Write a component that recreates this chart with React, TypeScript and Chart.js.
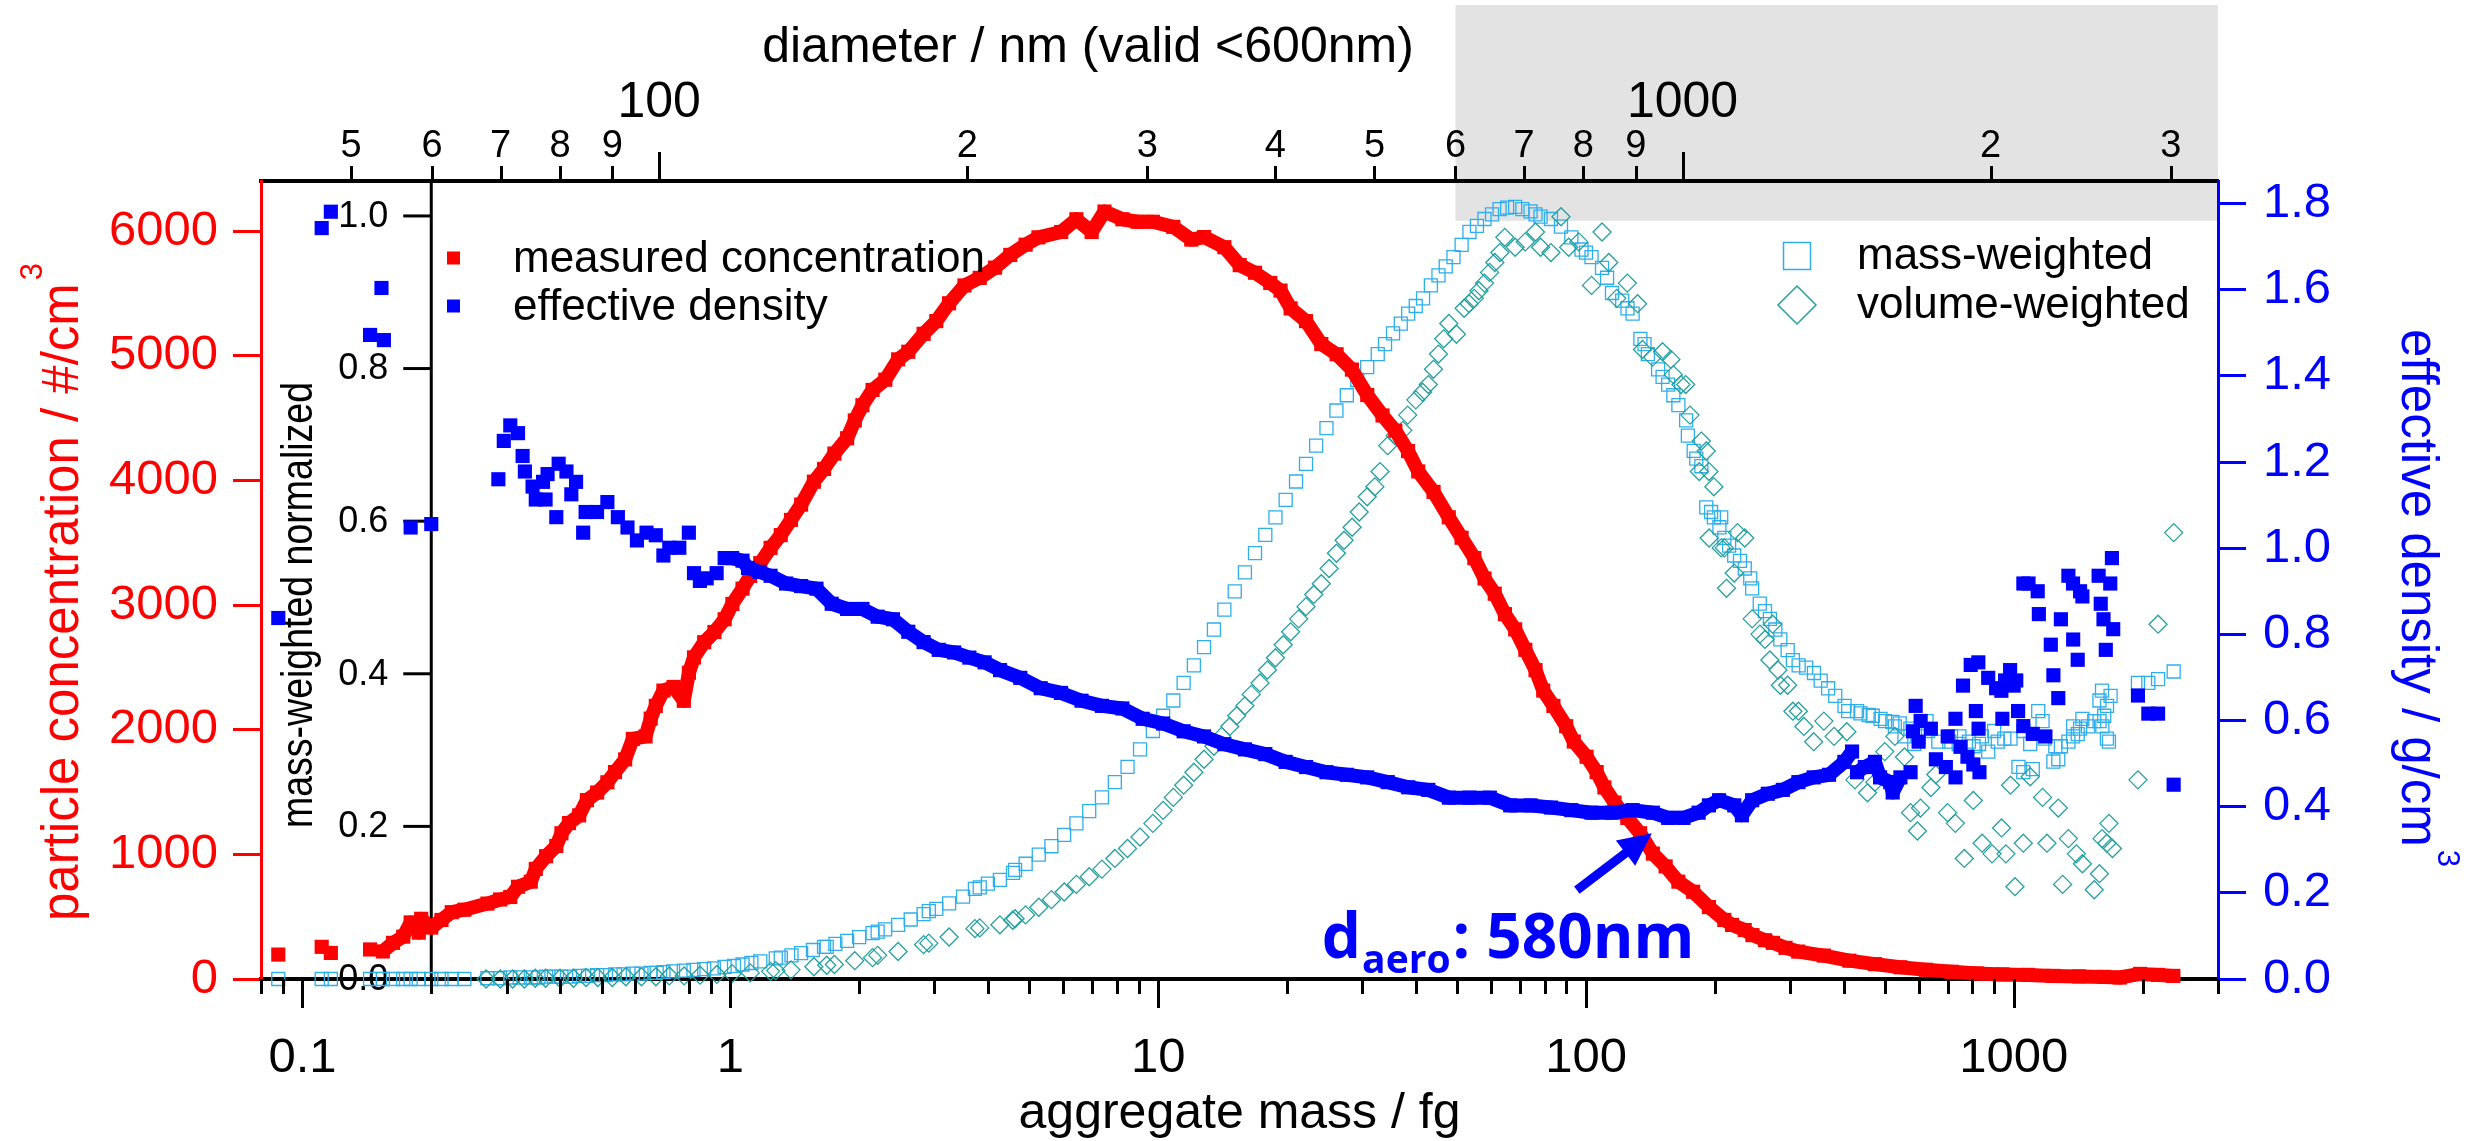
import { useEffect, useRef } from 'react';
import { Chart, registerables } from 'chart.js';

Chart.register(...registerables);

const W = 2471;
const H = 1141;
const RED = '#ff0000';
const BLUE = '#0000ff';
const SKY = '#2eaeea';
const TEAL = '#25a09e';
const SHADE = '#e3e3e3';
const FONT = "'Liberation Sans', Arial, Helvetica, sans-serif";
const ANNOT_FONT = "'Open Sans', Lato, 'Liberation Sans', sans-serif";

// ---------------- data (mass in fg) ----------------
// measured concentration [mass fg, #/cm3]
const CONCENTRATION: [number, number][] = [
  [0.0878, 196], [0.1109, 258], [0.1165, 209], [0.1439, 237], [0.1541, 221], [0.1628, 290], [0.172, 340], [0.179, 454], [0.187, 372], [0.1894, 483],
  [0.2, 413], [0.2113, 474], [0.2233, 536], [0.239, 556], [0.2706, 605], [0.2897, 638], [0.306, 658], [0.319, 740], [0.3417, 781], [0.351, 883],
  [0.371, 985], [0.392, 1067], [0.403, 1169], [0.4198, 1251], [0.4433, 1313], [0.4622, 1435], [0.4884, 1496], [0.516, 1578], [0.5376, 1660], [0.5679, 1762],
  [0.5917, 1926], [0.6337, 1946], [0.6514, 2089], [0.6696, 2191], [0.6976, 2314], [0.7369, 2343], [0.7786, 2232], [0.8003, 2457], [0.8225, 2580], [0.8689, 2702],
  [0.918, 2784], [0.9698, 2886], [1.011, 3009], [1.068, 3132], [1.113, 3234], [1.175, 3336], [1.242, 3459], [1.312, 3561], [1.386, 3683], [1.464, 3806],
  [1.568, 3990], [1.656, 4092], [1.751, 4215], [1.875, 4338], [1.954, 4481], [2.036, 4603], [2.15, 4726], [2.303, 4808], [2.467, 4971], [2.606, 5032],
  [2.83, 5176], [3.03, 5278], [3.246, 5421], [3.526, 5564], [3.828, 5625], [4.156, 5707], [4.512, 5809], [4.9, 5891], [5.25, 5950], [5.933, 5993],
  [6.44, 6095], [6.99, 5993], [7.49, 6157], [8.25, 6095], [8.95, 6075], [9.72, 6075], [10.85, 6034], [11.95, 5932], [12.8, 5952], [14.28, 5871],
  [15.51, 5727], [16.84, 5666], [18.28, 5584], [19.32, 5523], [20.4, 5380], [22.16, 5278], [24.06, 5094], [26.12, 5012], [28.37, 4889], [30.81, 4685],
  [33.45, 4521], [35.83, 4399], [38.37, 4235], [40.54, 4072], [44.02, 3908], [47.78, 3704], [51.19, 3540], [54.83, 3377], [57.92, 3213], [61.19, 3091],
  [64.64, 2927], [68.3, 2805], [72.14, 2641], [76.21, 2478], [79.43, 2314], [83.91, 2191], [89.87, 2028], [93.64, 1905], [100.3, 1783], [105.9, 1660],
  [110.4, 1537], [116.6, 1415], [124.9, 1292], [133.8, 1169], [143.3, 1006], [153.5, 903], [164.4, 781], [178, 700], [193.8, 577], [210.5, 474],
  [219.5, 434], [234.9, 393], [244.9, 352], [262.2, 311], [273.4, 290], [292.6, 250], [313.4, 220], [359.7, 188], [412.6, 147], [473.5, 119],
  [543, 94], [623, 74], [715, 58], [820, 45], [940, 37], [1079, 33], [1237, 25], [1419, 21], [1628, 17], [1768, 12],
  [1973, 41], [2173, 33], [2359, 25],
];

// effective density [mass fg, g/cm3]
const DENSITY: [number, number][] = [
  [0.0878, 0.838], [0.1109, 1.743], [0.1165, 1.781], [0.1439, 1.495], [0.153, 1.604], [0.155, 1.483], [0.179, 1.048], [0.2, 1.056],
  [0.287, 1.16], [0.2955, 1.249], [0.306, 1.285], [0.319, 1.267], [0.327, 1.214], [0.331, 1.178], [0.345, 1.143], [0.351, 1.113],
  [0.365, 1.154], [0.37, 1.113], [0.374, 1.172], [0.392, 1.072], [0.397, 1.196], [0.414, 1.178], [0.425, 1.125], [0.436, 1.154],
  [0.453, 1.036], [0.459, 1.084], [0.488, 1.084], [0.516, 1.107], [0.546, 1.072], [0.575, 1.048], [0.605, 1.018], [0.637, 1.036],
  [0.6696, 1.03], [0.6976, 0.983], [0.72, 1.001], [0.76, 1.001], [0.8, 1.036], [0.8225, 0.942], [0.849, 0.924], [0.8805, 0.93],
  [0.929, 0.942], [0.97, 0.977], [1.01, 0.977], [1.068, 0.971], [1.1, 0.954], [1.17, 0.945], [1.242, 0.936], [1.35, 0.918],
  [1.464, 0.912], [1.59, 0.906], [1.726, 0.871], [1.875, 0.859], [2.036, 0.859], [2.21, 0.841], [2.4, 0.835], [2.606, 0.806],
  [2.83, 0.782], [3.07, 0.764], [3.335, 0.758], [3.62, 0.746], [3.93, 0.735], [4.27, 0.717], [4.762, 0.699], [5.315, 0.675],
  [5.93, 0.664], [6.62, 0.646], [7.39, 0.634], [8.25, 0.628], [9.2, 0.604], [10.27, 0.593], [11.47, 0.575], [12.8, 0.563],
  [14.28, 0.545], [15.95, 0.533], [17.8, 0.522], [19.86, 0.504], [22.16, 0.492], [24.74, 0.48], [27.6, 0.474], [30.8, 0.468],
  [34.4, 0.457], [38.4, 0.445], [42.8, 0.439], [47.8, 0.421], [53.4, 0.421], [59.6, 0.421], [66.5, 0.403], [74.2, 0.403],
  [82.8, 0.398], [92.4, 0.392], [103, 0.386], [115, 0.386], [128.5, 0.392], [143.3, 0.386], [155.6, 0.374], [168.9, 0.374],
  [183.3, 0.386], [193.8, 0.403], [204.6, 0.415], [222.1, 0.403], [231.4, 0.38], [244.5, 0.415], [266, 0.43], [288.5, 0.439],
  [313.6, 0.457], [340.5, 0.468], [369.8, 0.474], [401.6, 0.504], [418.6, 0.528], [430.1, 0.48], [448.4, 0.492], [473.5, 0.504],
  [486.8, 0.468], [514, 0.457], [521, 0.433], [543, 0.468], [573.5, 0.48], [581, 0.575], [589.5, 0.634], [599, 0.551],
  [605.5, 0.599], [639.7, 0.581], [657.3, 0.51], [693.5, 0.492], [700.5, 0.563], [730.3, 0.604], [730.5, 0.468], [750.3, 0.539],
  [760.6, 0.681], [779, 0.516], [792.8, 0.729], [804, 0.498], [815, 0.622], [826, 0.735], [827, 0.581], [831, 0.48],
  [871, 0.699], [909, 0.675], [935, 0.669], [940, 0.604], [954, 0.693], [980, 0.717], [999, 0.681], [1013, 0.693],
  [1023, 0.622], [1052, 0.587], [1052.5, 0.918], [1082, 0.918], [1107, 0.569], [1137, 0.9], [1144, 0.847], [1185, 0.563],
  [1220, 0.776], [1237, 0.705], [1270, 0.652], [1288, 0.835], [1341, 0.936], [1375, 0.918], [1376, 0.788], [1410, 0.741],
  [1428, 0.9], [1446, 0.888], [1578, 0.936], [1596, 0.871], [1620, 0.835], [1640, 0.764], [1680, 0.918], [1695, 0.977],
  [1707, 0.812], [1950, 0.658], [2062, 0.616], [2173, 0.616], [2363, 0.451],
];

// mass-weighted, normalized [mass fg, -]
const MASS_WEIGHTED: [number, number][] = [
  [0.0878, 0], [0.1109, 0], [0.1165, 0], [0.1439, 0], [0.1541, 0], [0.1628, 0], [0.172, 0], [0.179, 0], [0.187, 0], [0.2, 0],
  [0.2113, 0], [0.2233, 0], [0.239, 0], [0.2706, 0.001], [0.2897, 0.001], [0.306, 0.002], [0.322, 0.002], [0.3417, 0.002], [0.356, 0.002], [0.371, 0.003],
  [0.387, 0.003], [0.403, 0.003], [0.422, 0.003], [0.4433, 0.004], [0.465, 0.004], [0.4884, 0.005], [0.512, 0.005], [0.5376, 0.006], [0.563, 0.006], [0.5917, 0.007],
  [0.62, 0.007], [0.6514, 0.008], [0.673, 0.008], [0.6976, 0.009], [0.735, 0.01], [0.7786, 0.011], [0.82, 0.012], [0.8689, 0.013], [0.915, 0.014], [0.9698, 0.016],
  [1.02, 0.017], [1.068, 0.019], [1.12, 0.021], [1.175, 0.023], [1.277, 0.027], [1.312, 0.028], [1.39, 0.031], [1.464, 0.034], [1.56, 0.038], [1.656, 0.042],
  [1.68, 0.042], [1.76, 0.046], [1.875, 0.05], [2.0, 0.055], [2.15, 0.06], [2.21, 0.062], [2.3, 0.065], [2.467, 0.071], [2.64, 0.078], [2.83, 0.085],
  [2.91, 0.089], [3.03, 0.092], [3.246, 0.099], [3.5, 0.108], [3.73, 0.118], [3.828, 0.12], [4.0, 0.125], [4.267, 0.13], [4.58, 0.139], [4.63, 0.143],
  [4.9, 0.151], [5.26, 0.163], [5.63, 0.174], [6.03, 0.189], [6.44, 0.204], [6.9, 0.22], [7.39, 0.238], [7.92, 0.258], [8.48, 0.278], [9.07, 0.301],
  [9.72, 0.325], [10.27, 0.345], [10.85, 0.365], [11.47, 0.388], [12.12, 0.411], [12.8, 0.435], [13.5, 0.458], [14.28, 0.484], [15.1, 0.508], [15.95, 0.533],
  [16.84, 0.558], [17.8, 0.582], [18.8, 0.605], [19.86, 0.628], [21, 0.652], [22.16, 0.675], [23.4, 0.699], [24.74, 0.722], [26.1, 0.745], [27.6, 0.765],
  [29.2, 0.785], [30.8, 0.802], [32.6, 0.819], [33.9, 0.832], [35.4, 0.846], [36.9, 0.859], [38.4, 0.872], [40, 0.882], [41.6, 0.892], [43.4, 0.909],
  [45.2, 0.922], [47, 0.934], [49, 0.946], [51.2, 0.962], [53.4, 0.979], [55.6, 0.987], [57.9, 0.996], [60.3, 1.002], [62.8, 1.009], [65.4, 1.011],
  [68.3, 1.012], [71, 1.009], [74.2, 1.006], [76.2, 1.002], [78.3, 0.999], [82.8, 0.996], [87.4, 0.986], [92.4, 0.972], [97.6, 0.956], [100, 0.952],
  [103, 0.946], [109, 0.932], [112, 0.919], [115, 0.899], [121.5, 0.889], [125, 0.879], [128.5, 0.872], [134, 0.839], [137, 0.832], [139.5, 0.819],
  [147.4, 0.799], [151, 0.789], [155.6, 0.779], [160, 0.765], [164.4, 0.752], [171.4, 0.732], [173, 0.712], [178.5, 0.692], [181, 0.682], [186, 0.672],
  [191, 0.618], [196, 0.612], [199, 0.605], [205, 0.592], [207, 0.605], [210.5, 0.578], [216, 0.568], [222, 0.555], [229, 0.548], [235, 0.538],
  [242, 0.525], [244.5, 0.512], [254.7, 0.492], [262, 0.482], [269, 0.472], [277, 0.458], [284.5, 0.445], [296, 0.431], [304.5, 0.418], [314, 0.411],
  [327, 0.408], [341, 0.401], [353.6, 0.391], [368, 0.381], [382.4, 0.371], [402, 0.358], [410, 0.351], [430, 0.351], [438, 0.348], [458, 0.346],
  [468, 0.345], [488, 0.341], [500, 0.338], [520, 0.337], [527, 0.331], [541, 0.335], [555, 0.318], [573, 0.328], [585, 0.308], [599, 0.318],
  [625, 0.338], [630, 0.325], [666, 0.311], [706, 0.311], [713, 0.318], [743, 0.308], [746, 0.318], [785, 0.311], [805, 0.305], [829, 0.308],
  [842, 0.318], [871, 0.298], [899, 0.325], [917, 0.311], [950, 0.315], [982, 0.315], [1025, 0.278], [1052, 0.271], [1053, 0.325], [1092, 0.308],
  [1107, 0.275], [1140, 0.351], [1167, 0.338], [1180, 0.315], [1237, 0.285], [1250, 0.305], [1270, 0.288], [1288, 0.305], [1341, 0.311], [1375, 0.318],
  [1376, 0.331], [1410, 0.321], [1428, 0.328], [1446, 0.341], [1490, 0.331], [1541, 0.338], [1585, 0.365], [1586, 0.338], [1607, 0.378], [1610, 0.331],
  [1626, 0.345], [1650, 0.315], [1651, 0.358], [1668, 0.311], [1683, 0.371], [1950, 0.388], [2062, 0.388], [2173, 0.393], [2363, 0.403],
];

// volume-weighted, normalized [mass fg, -]
const VOLUME_WEIGHTED: [number, number][] = [
  [0.2686, 0], [0.29, 0], [0.31, 0], [0.33, 0], [0.35, 0.001], [0.37, 0.001], [0.4, 0.001], [0.43, 0.001], [0.46, 0.002], [0.49, 0.002],
  [0.53, 0.002], [0.57, 0.003], [0.62, 0.003], [0.67, 0.003], [0.72, 0.004], [0.78, 0.004], [0.85, 0.005], [0.93, 0.006], [1.01, 0.007], [1.113, 0.008],
  [1.242, 0.01], [1.277, 0.011], [1.386, 0.012], [1.568, 0.016], [1.68, 0.018], [1.751, 0.019], [1.954, 0.024], [2.15, 0.028], [2.21, 0.031], [2.467, 0.036],
  [2.83, 0.045], [2.91, 0.047], [3.246, 0.055], [3.73, 0.066], [3.828, 0.067], [4.267, 0.071], [4.57, 0.077], [4.63, 0.079], [4.9, 0.084], [5.26, 0.094],
  [5.63, 0.104], [6.03, 0.114], [6.44, 0.124], [6.9, 0.134], [7.39, 0.144], [7.92, 0.158], [8.48, 0.171], [9.07, 0.186], [9.72, 0.204], [10.27, 0.221],
  [10.85, 0.238], [11.47, 0.254], [12.12, 0.271], [12.8, 0.288], [13.5, 0.305], [14.07, 0.318], [14.7, 0.331], [15.26, 0.345], [15.95, 0.358], [16.5, 0.373],
  [17.3, 0.388], [18, 0.405], [18.8, 0.421], [19.6, 0.438], [20.4, 0.455], [21.3, 0.472], [22.16, 0.488], [23.1, 0.504], [24.06, 0.518], [25.1, 0.538],
  [26.1, 0.558], [27.2, 0.575], [28.4, 0.592], [29.5, 0.612], [30.8, 0.632], [32.1, 0.645], [33, 0.665], [34.4, 0.699], [35.8, 0.712], [37.3, 0.719],
  [38.3, 0.739], [40, 0.759], [41.5, 0.769], [42.8, 0.779], [44, 0.799], [45.2, 0.819], [46.5, 0.839], [47.8, 0.859], [49.8, 0.845], [51.9, 0.879],
  [53.3, 0.885], [54.8, 0.892], [56.2, 0.902], [57.9, 0.912], [59.5, 0.926], [61.2, 0.939], [62.9, 0.952], [64.6, 0.972], [68.3, 0.959], [72.1, 0.966],
  [76.2, 0.979], [78.3, 0.959], [82.8, 0.952], [87.4, 0.999], [91.1, 0.959], [96.2, 0.966], [103, 0.909], [109, 0.979], [113, 0.939], [118, 0.892],
  [124.9, 0.912], [132, 0.885], [135.5, 0.825], [143, 0.815], [151, 0.822], [157.9, 0.812], [160, 0.792], [166.7, 0.779], [171, 0.779], [175, 0.739],
  [184, 0.665], [186, 0.705], [191, 0.692], [193.8, 0.665], [194, 0.578], [199, 0.645], [207, 0.565], [210.5, 0.565], [213, 0.512], [222, 0.532],
  [226, 0.585], [235, 0.578], [244.5, 0.472], [255, 0.452], [262, 0.445], [269, 0.418], [273, 0.465], [281, 0.405], [284.5, 0.385], [296, 0.385],
  [304.5, 0.351], [313.6, 0.351], [323, 0.331], [340.5, 0.311], [359.7, 0.338], [380, 0.318], [407, 0.324], [425, 0.261], [455, 0.244], [473.5, 0.258],
  [499, 0.298], [527, 0.318], [555, 0.291], [573.5, 0.218], [595, 0.194], [605, 0.224], [640, 0.251], [657, 0.268], [700, 0.218], [730, 0.204],
  [766, 0.158], [804, 0.234], [843, 0.178], [889, 0.164], [936, 0.198], [958, 0.164], [982, 0.254], [1006, 0.121], [1052, 0.178], [1092, 0.265],
  [1167, 0.238], [1195, 0.178], [1270, 0.224], [1300, 0.124], [1341, 0.184], [1400, 0.164], [1446, 0.151], [1541, 0.117], [1585, 0.138], [1607, 0.184],
  [1650, 0.178], [1668, 0.204], [1700, 0.171], [1950, 0.261], [2173, 0.465], [2363, 0.585],
];

// ---------------- axes ----------------
const BOTTOM_TICKS = [0.08, 0.09, 0.1, 0.2, 0.3, 0.4, 0.5, 0.6, 0.7, 0.8, 0.9, 1, 2, 3, 4, 5, 6, 7, 8, 9, 10, 20, 30, 40, 50, 60, 70, 80, 90,
  100, 200, 300, 400, 500, 600, 700, 800, 900, 1000, 2000, 3000];
const BOTTOM_MAJOR = [0.1, 1, 10, 100, 1000];
const BOTTOM_MAJOR_LABELS = ['0.1', '1', '10', '100', '1000'];
const TOP_TICKS = [50, 60, 70, 80, 90, 100, 200, 300, 400, 500, 600, 700, 800, 900, 1000, 2000, 3000];
const TOP_LABELS = ['5', '6', '7', '8', '9', '100', '2', '3', '4', '5', '6', '7', '8', '9', '1000', '2', '3'];
const TOP_MAJOR = [100, 1000];
const LEFT_TICKS = [0, 1000, 2000, 3000, 4000, 5000, 6000];
const RIGHT_TICKS = [0, 0.2, 0.4, 0.6, 0.8, 1.0, 1.2, 1.4, 1.6, 1.8];
const INNER_TICKS = [0, 0.2, 0.4, 0.6, 0.8, 1.0];

const X_MIN = 0.08;
const X_MAX = 3000;
const D_MIN = 40.83;
const D_MAX = 3336;
const Y_MAX = 6402;
const R_MAX = 1.8523;
const N_MAX = 1.0458;
const INNER_AXIS_AT = 0.2; // fg
const VALID_LIMIT_NM = 600;
const SHADE_BOTTOM = 1.76; // on density axis

const BOTTOM_TITLE = 'aggregate mass / fg';
const TOP_TITLE = 'diameter / nm (valid <600nm)';
const LEFT_TITLE = 'particle concentration / #/cm';
const RIGHT_TITLE = 'effective density / g/cm';
const INNER_TITLE = 'mass-weighted normalized';

const ARROW_TIP: [number, number] = [142.5, 1170];
const ARROW_TAIL: [number, number] = [95.2, 713];
const NOTE_AT: [number, number] = [24.13, 168];

// layout of the frame in canvas pixels
const BOX = { left: 261, top: 181, right: 2218, bottom: 979 };

const HIDE = 'rgba(0,0,0,0)';

function segStyle(series: [number, number][], lo: number, hi: number, maxDy: number) {
  return (c: any) => {
    const a = series[c.p0DataIndex];
    const b = series[c.p1DataIndex];
    if (!a || !b) return HIDE;
    if (a[0] < lo || b[0] > hi) return HIDE;
    if (Math.abs(c.p1.y - c.p0.y) > maxDy || Math.abs(c.p1.x - c.p0.x) > 30) return HIDE;
    return undefined;
  };
}

function rotatedTitle(ctx: CanvasRenderingContext2D, text: string, sup: string, baseX: number, cy: number, angle: number, color: string) {
  ctx.save();
  ctx.fillStyle = color;
  ctx.translate(baseX, cy);
  ctx.rotate(angle);
  ctx.textAlign = 'left';
  ctx.textBaseline = 'alphabetic';
  ctx.font = `51px ${FONT}`;
  const w1 = ctx.measureText(text).width;
  ctx.font = `31px ${FONT}`;
  const w2 = ctx.measureText(sup).width;
  const total = w1 + 3 + w2;
  ctx.font = `51px ${FONT}`;
  ctx.fillText(text, -total / 2, 0);
  ctx.font = `31px ${FONT}`;
  ctx.fillText(sup, -total / 2 + w1 + 3, -36);
  ctx.restore();
}

const decor = {
  id: 'decor',
  beforeDraw(chart: any) {
    const { ctx, chartArea, scales } = chart;
    ctx.save();
    ctx.fillStyle = '#ffffff';
    ctx.fillRect(0, 0, W, H);
    const xs = scales.xTop.getPixelForValue(VALID_LIMIT_NM);
    const yb = scales.yR.getPixelForValue(SHADE_BOTTOM);
    ctx.fillStyle = SHADE;
    ctx.fillRect(xs, 5, chartArea.right - xs, yb - 5);
    ctx.restore();
  },
  beforeDatasetsDraw(chart: any) {
    const { ctx, chartArea, scales } = chart;
    const x0 = scales.x.getPixelForValue(INNER_AXIS_AT);
    ctx.save();
    ctx.strokeStyle = '#000';
    ctx.lineWidth = 3;
    ctx.beginPath();
    ctx.moveTo(x0, chartArea.top);
    ctx.lineTo(x0, chartArea.bottom);
    ctx.stroke();
    ctx.fillStyle = '#000';
    ctx.font = `36px ${FONT}`;
    ctx.textAlign = 'right';
    ctx.textBaseline = 'middle';
    INNER_TICKS.forEach((v) => {
      const y = scales.yN.getPixelForValue(v);
      ctx.beginPath();
      ctx.moveTo(x0 - 28, y);
      ctx.lineTo(x0, y);
      ctx.stroke();
      ctx.fillText(v.toFixed(1), x0 - 43, y + 1);
    });
    // condensed rotated title of the inner axis
    ctx.save();
    ctx.translate(x0 - 119, (chartArea.top + chartArea.bottom) / 2 + 25);
    ctx.rotate(-Math.PI / 2);
    ctx.font = `44px ${FONT}`;
    const tw = ctx.measureText(INNER_TITLE).width;
    ctx.scale(446 / tw, 1);
    ctx.textAlign = 'center';
    ctx.textBaseline = 'alphabetic';
    ctx.fillText(INNER_TITLE, 0, 0);
    ctx.restore();
    ctx.restore();
  },
  afterDatasetsDraw(chart: any) {
    const { ctx, scales } = chart;
    ctx.save();
    // legends
    ctx.fillStyle = RED;
    ctx.fillRect(447, 251.5, 13, 13);
    ctx.fillStyle = BLUE;
    ctx.fillRect(447, 299.5, 13, 13);
    ctx.fillStyle = '#000';
    ctx.font = `44px ${FONT}`;
    ctx.textAlign = 'left';
    ctx.textBaseline = 'alphabetic';
    ctx.fillText('measured concentration', 513, 272);
    ctx.fillText('effective density', 513, 320);
    ctx.strokeStyle = SKY;
    ctx.lineWidth = 1.5;
    ctx.strokeRect(1783.5, 242.5, 27, 27);
    ctx.strokeStyle = TEAL;
    ctx.beginPath();
    ctx.moveTo(1797, 286);
    ctx.lineTo(1816, 305);
    ctx.lineTo(1797, 324);
    ctx.lineTo(1778, 305);
    ctx.closePath();
    ctx.stroke();
    ctx.fillText('mass-weighted', 1857, 269);
    ctx.fillText('volume-weighted', 1857, 318);

    // annotation arrow
    const tip = { x: scales.x.getPixelForValue(ARROW_TIP[0]), y: scales.y.getPixelForValue(ARROW_TIP[1]) };
    const tail = { x: scales.x.getPixelForValue(ARROW_TAIL[0]), y: scales.y.getPixelForValue(ARROW_TAIL[1]) };
    const ang = Math.atan2(tip.y - tail.y, tip.x - tail.x);
    const headLen = 33;
    const headHalf = 16;
    const bx = tip.x - headLen * Math.cos(ang);
    const by = tip.y - headLen * Math.sin(ang);
    ctx.strokeStyle = BLUE;
    ctx.lineWidth = 9;
    ctx.lineCap = 'butt';
    ctx.beginPath();
    ctx.moveTo(tail.x, tail.y);
    ctx.lineTo(bx + 2 * Math.cos(ang), by + 2 * Math.sin(ang));
    ctx.stroke();
    ctx.fillStyle = BLUE;
    ctx.beginPath();
    ctx.moveTo(tip.x, tip.y);
    ctx.lineTo(bx + headHalf * Math.sin(ang), by - headHalf * Math.cos(ang));
    ctx.lineTo(bx - headHalf * Math.sin(ang), by + headHalf * Math.cos(ang));
    ctx.closePath();
    ctx.fill();

    // annotation text
    const tx = scales.x.getPixelForValue(NOTE_AT[0]);
    const ty = scales.y.getPixelForValue(NOTE_AT[1]);
    ctx.font = `bold 62px ${ANNOT_FONT}`;
    ctx.fillText('d', tx, ty);
    let cx = tx + ctx.measureText('d').width + 1;
    ctx.font = `bold 39px ${ANNOT_FONT}`;
    ctx.fillText('aero', cx, ty + 15);
    cx += ctx.measureText('aero').width + 2;
    ctx.font = `bold 62px ${ANNOT_FONT}`;
    ctx.fillText(': 580nm', cx, ty);
    ctx.restore();
  },
  afterDraw(chart: any) {
    const { ctx, chartArea, scales } = chart;
    ctx.save();
    ctx.strokeStyle = '#000';
    ctx.lineWidth = 3;
    BOTTOM_TICKS.forEach((v) => {
      const px = Math.round(scales.x.getPixelForValue(v)) + 0.5;
      const len = BOTTOM_MAJOR.includes(v) ? 29 : 15;
      ctx.beginPath();
      ctx.moveTo(px, chartArea.bottom);
      ctx.lineTo(px, chartArea.bottom + len);
      ctx.stroke();
    });
    TOP_TICKS.forEach((v) => {
      const px = Math.round(scales.xTop.getPixelForValue(v)) + 0.5;
      const len = TOP_MAJOR.includes(v) ? 29 : 15;
      ctx.beginPath();
      ctx.moveTo(px, chartArea.top);
      ctx.lineTo(px, chartArea.top - len);
      ctx.stroke();
    });
    ctx.fillStyle = '#000';
    ctx.font = `50px ${FONT}`;
    ctx.textAlign = 'center';
    ctx.textBaseline = 'alphabetic';
    ctx.fillText(BOTTOM_TITLE, (chartArea.left + chartArea.right) / 2, 1128);
    ctx.fillText(TOP_TITLE, 1088, 62);
    rotatedTitle(ctx, LEFT_TITLE, '3', 78, 592, -Math.PI / 2, RED);
    rotatedTitle(ctx, RIGHT_TITLE, '3', 2402, 598, Math.PI / 2, BLUE);
    ctx.restore();
  },
};

function toPoints(series: [number, number][]) {
  return series.map(([x, y]) => ({ x, y }));
}

export default function App() {
  const ref = useRef<HTMLCanvasElement>(null);

  useEffect(() => {
    if (!ref.current) return;
    const chart = new Chart(ref.current, {
      type: 'scatter',
      data: {
        datasets: [
          {
            label: 'effective density',
            data: toPoints(DENSITY),
            yAxisID: 'yR',
            order: 0,
            showLine: true,
            borderColor: BLUE,
            borderWidth: 14,
            borderJoinStyle: 'round',
            pointStyle: 'rect',
            pointRadius: 10,
            pointBackgroundColor: BLUE,
            pointBorderColor: BLUE,
            pointBorderWidth: 0,
            segment: { borderColor: segStyle(DENSITY, 0.95, 560, 16) },
            clip: false,
          } as any,
          {
            label: 'measured concentration',
            data: toPoints(CONCENTRATION),
            yAxisID: 'y',
            order: 1,
            showLine: true,
            borderColor: RED,
            borderWidth: 14,
            borderJoinStyle: 'round',
            pointStyle: 'rect',
            pointRadius: 10,
            pointBackgroundColor: RED,
            pointBorderColor: RED,
            pointBorderWidth: 0,
            segment: { borderColor: segStyle(CONCENTRATION, 0.15, 1e9, 60) },
            clip: false,
          } as any,
          {
            label: 'volume-weighted',
            data: toPoints(VOLUME_WEIGHTED),
            yAxisID: 'yN',
            order: 2,
            showLine: false,
            pointStyle: 'rectRot',
            pointRadius: 9,
            pointBackgroundColor: HIDE,
            pointBorderColor: TEAL,
            borderColor: TEAL,
            pointBorderWidth: 1.3,
            clip: false,
          } as any,
          {
            label: 'mass-weighted',
            data: toPoints(MASS_WEIGHTED),
            yAxisID: 'yN',
            order: 3,
            showLine: false,
            pointStyle: 'rect',
            pointRadius: 9.2,
            pointBackgroundColor: HIDE,
            pointBorderColor: SKY,
            borderColor: SKY,
            pointBorderWidth: 1.3,
            clip: false,
          } as any,
        ],
      },
      options: {
        responsive: false,
        animation: false,
        devicePixelRatio: 1,
        events: [],
        layout: { padding: 0 },
        plugins: { legend: { display: false }, tooltip: { enabled: false }, title: { display: false } },
        scales: {
          x: {
            type: 'logarithmic',
            position: 'bottom',
            min: X_MIN,
            max: X_MAX,
            bounds: 'data',
            afterFit: (s: any) => { s.height = H - BOX.bottom; },
            afterBuildTicks: (s: any) => { s.ticks = BOTTOM_TICKS.map((v) => ({ value: v })); },
            grid: { drawOnChartArea: false, drawTicks: false },
            border: { display: true, color: '#000', width: 4 },
            ticks: {
              autoSkip: false,
              maxRotation: 0,
              minRotation: 0,
              padding: 50,
              color: '#000',
              font: { family: FONT, size: 49, lineHeight: 1.2 },
              callback: (v: any) => {
                const i = BOTTOM_MAJOR.indexOf(Number(v));
                return i >= 0 ? BOTTOM_MAJOR_LABELS[i] : '';
              },
            },
          },
          xTop: {
            type: 'logarithmic',
            axis: 'x',
            position: 'top',
            min: D_MIN,
            max: D_MAX,
            bounds: 'data',
            afterFit: (s: any) => { s.height = BOX.top; },
            afterBuildTicks: (s: any) => { s.ticks = TOP_TICKS.map((v) => ({ value: v })); },
            grid: { drawOnChartArea: false, drawTicks: false },
            border: { display: true, color: '#000', width: 4 },
            ticks: {
              autoSkip: false,
              maxRotation: 0,
              minRotation: 0,
              padding: 15,
              color: '#000',
              font: (c: any) => (c && c.tick && TOP_MAJOR.includes(c.tick.value)
                ? { family: FONT, size: 50, lineHeight: 0.84 }
                : { family: FONT, size: 38, lineHeight: 1.0 }),
              callback: (v: any) => {
                const n = Number(v);
                const lbl = TOP_LABELS[TOP_TICKS.indexOf(n)] ?? '';
                return TOP_MAJOR.includes(n) ? [lbl, ''] : lbl;
              },
            },
          },
          y: {
            type: 'linear',
            position: 'left',
            min: 0,
            max: Y_MAX,
            bounds: 'data',
            afterFit: (s: any) => { s.width = BOX.left; },
            afterBuildTicks: (s: any) => { s.ticks = LEFT_TICKS.map((v) => ({ value: v })); },
            grid: { drawOnChartArea: false, drawTicks: true, tickLength: 28, tickWidth: 3, tickColor: RED },
            border: { display: true, color: RED, width: 3 },
            ticks: {
              padding: 15,
              color: RED,
              font: { family: FONT, size: 49 },
              callback: (v: any) => String(v),
            },
          },
          yR: {
            type: 'linear',
            position: 'right',
            min: 0,
            max: R_MAX,
            bounds: 'data',
            afterFit: (s: any) => { s.width = W - BOX.right; },
            afterBuildTicks: (s: any) => { s.ticks = RIGHT_TICKS.map((v) => ({ value: v })); },
            grid: { drawOnChartArea: false, drawTicks: true, tickLength: 28, tickWidth: 3, tickColor: BLUE },
            border: { display: true, color: BLUE, width: 3 },
            ticks: {
              padding: 17,
              color: BLUE,
              font: { family: FONT, size: 49 },
              callback: (v: any) => Number(v).toFixed(1),
            },
          },
          yN: {
            type: 'linear',
            axis: 'y',
            position: 'left',
            display: false,
            min: 0,
            max: N_MAX,
          },
        },
      } as any,
      plugins: [decor],
    });
    return () => chart.destroy();
  }, []);

  return (
    <div style={{ position: 'absolute', left: 0, top: 0, width: W, height: H, background: '#fff' }}>
      <canvas ref={ref} width={W} height={H} style={{ display: 'block', width: W, height: H }} />
    </div>
  );
}
